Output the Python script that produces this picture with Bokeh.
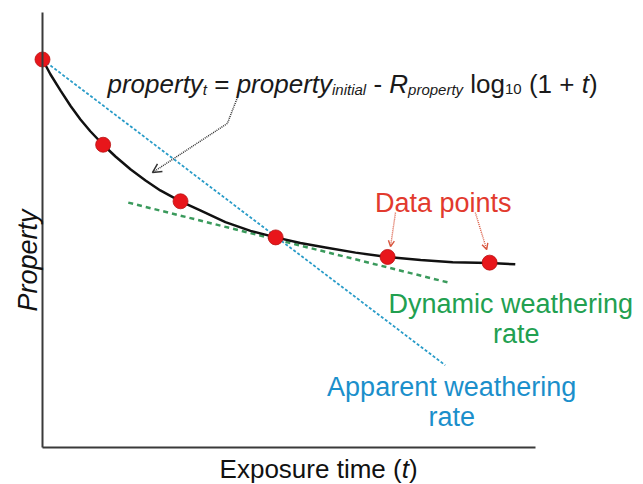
import math
from bokeh.plotting import figure
from bokeh.models import Label, Arrow, OpenHead, Range1d, LinearAxis, FixedTicker
from bokeh.embed import file_html
from bokeh.resources import INLINE

# ---- data (t: exposure time units, P: property units) ----
curve_t = [0, 0.16, 0.37, 0.57, 0.77, 0.97, 1.23, 1.48, 1.79, 2.09, 2.39, 2.80,
           3.20, 3.71, 4.22, 4.73, 5.23, 5.74, 6.35, 7.00, 7.67, 8.32, 9.07, 9.59]
curve_p = [89.2, 85.8, 82.0, 78.5, 75.4, 72.7, 69.6, 66.9, 63.9, 61.4, 59.1, 56.6,
           54.5, 51.8, 49.8, 48.3, 47.0, 46.0, 44.8, 43.8, 43.1, 42.6, 42.4, 42.1]
point_t = [0, 1.23, 2.80, 4.73, 7.00, 9.07]
point_p = [89.2, 69.6, 56.6, 48.3, 43.8, 42.5]
apparent_t = [0, 8.17]
apparent_p = [89.2, 18.9]
dynamic_t = [1.74, 8.24]
dynamic_p = [56.3, 37.9]

FONT = "Liberation Sans"
BLUE_LINE = "#2a9cc8"
BLUE_TEXT = "#1b8fcb"
GREEN_LINE = "#3a9a5c"
GREEN_TEXT = "#22a050"
RED = "#e8161b"
RED_TEXT = "#e23a2e"

# Arial / Liberation Sans advance widths (per 1000 em)
AW = {'E': 667, 'x': 500, 'p': 556, 'o': 556, 's': 500, 'u': 556, 'r': 333, 'e': 556,
      ' ': 278, 't': 278, 'i': 222, 'm': 833, '(': 333, ')': 333, 'D': 722, 'a': 556,
      'n': 556, 'y': 500, 'c': 500, 'w': 722, 'h': 556, 'g': 556, 'A': 667, 'l': 222,
      'R': 722, '=': 584, '-': 333, '+': 584, '1': 556, '0': 556, 'P': 667}


def tw(s, size):
    return sum(AW.get(c, 556) for c in s) * size / 1000.0


p = figure(width=643, height=484,
           x_range=Range1d(-0.8519, 12.191), y_range=Range1d(-8.506, 102.76),
           x_axis_location=None, y_axis_location=None,
           output_backend="svg", toolbar_location=None,
           min_border=0, min_border_left=0, min_border_right=0,
           min_border_top=0, min_border_bottom=0)
p.outline_line_color = None
p.grid.grid_line_color = None
p.background_fill_color = "white"

ax_kw = dict(fixed_location=0, ticker=FixedTicker(ticks=[]),
             axis_line_width=2, axis_line_color="#3a3a3a",
             major_tick_line_color=None, minor_tick_line_color=None,
             major_label_text_font_size="0px")
xaxis = LinearAxis(bounds=(0, 10), **ax_kw)
yaxis = LinearAxis(bounds=(0, 100), **ax_kw)
p.add_layout(xaxis, "below")
p.add_layout(yaxis, "left")

# lines
p.line(apparent_t, apparent_p, line_color=BLUE_LINE, line_width=1.8, line_dash="3 2")
p.line(dynamic_t, dynamic_p, line_color=GREEN_LINE, line_width=2.5, line_dash="5 4")
p.line(curve_t, curve_p, line_color="#111111", line_width=2.5)
p.scatter(point_t, point_p, size=15, fill_color=RED, line_color="#b81212", line_width=0.8)


def add_pieces(x, y, pieces, color, align="left"):
    total = sum(tw(t, s) for t, s, *_ in pieces)
    off = 0.0 if align == "left" else -total / 2.0
    for piece in pieces:
        text, size = piece[0], piece[1]
        italic = piece[2] if len(piece) > 2 else False
        dy = piece[3] if len(piece) > 3 else 0
        if text.strip():
            p.add_layout(Label(x=x, y=y, x_offset=off, y_offset=dy, text=text,
                               text_font=FONT, text_font_size=f"{size}px",
                               text_font_style="italic" if italic else "normal",
                               text_color=color, text_align="left",
                               text_baseline="alphabetic"))
        off += tw(text, size)


F, f = 26, 15
eq = [("property", F, True), ("t", f, True, -5), (" ", F), ("=", F), (" ", F),
      ("property", F, True), ("initial", f, True, -5), (" ", F), ("-", F), (" ", F),
      ("R", F, True), ("property", f, True, -5), (" ", F), ("log", F), ("10", f, False, -5),
      (" ", F), ("(1", F), (" ", F), ("+", F), (" ", F), ("t", F, True), (")", F)]
add_pieces(1.318, 83.45, eq, "#1a1a1a")

# x axis title
add_pieces(5.6, -4.83, [("Exposure time (", 26), ("t", 26, True), (")", 26)], "#111111",
           align="center")

# y axis title
p.add_layout(Label(x=-0.30, y=43.0, text="Property", angle=math.pi / 2,
                   text_font=FONT, text_font_size="27px", text_font_style="italic",
                   text_color="#111111", text_align="center", text_baseline="alphabetic"))


def lab(x, y, text, color, size=27):
    p.add_layout(Label(x=x, y=y, text=text, text_font=FONT, text_font_size=f"{size}px",
                       text_color=color, text_align="center", text_baseline="alphabetic"))


lab(8.13, 56.1, "Data points", RED_TEXT)
lab(9.50, 33.1, "Dynamic weathering", GREEN_TEXT)
lab(9.61, 26.0, "rate", GREEN_TEXT)
lab(8.30, 13.8, "Apparent weathering", BLUE_TEXT)
lab(8.30, 6.9, "rate", BLUE_TEXT)

# annotation arrows
p.line([3.955, 3.75], [80.5, 74.5], line_color="#333333", line_width=1.5, line_dash="1 1")
p.add_layout(Arrow(x_start=3.75, y_start=74.5, x_end=2.23, y_end=63.2,
                   line_color="#333333", line_width=1.5, line_dash="1 1",
                   end=OpenHead(size=9, line_color="#333333", line_width=1.5)))
for xs, ys, xe, ye in [(7.16, 54.0, 7.06, 46.2), (8.78, 54.0, 9.01, 45.5)]:
    p.add_layout(Arrow(x_start=xs, y_start=ys, x_end=xe, y_end=ye,
                       line_color="#d9573f", line_width=1.4, line_dash="1 1",
                       end=OpenHead(size=6, line_color="#d9573f", line_width=1.4)))

open("out.html", "w").write(file_html(p, INLINE))
